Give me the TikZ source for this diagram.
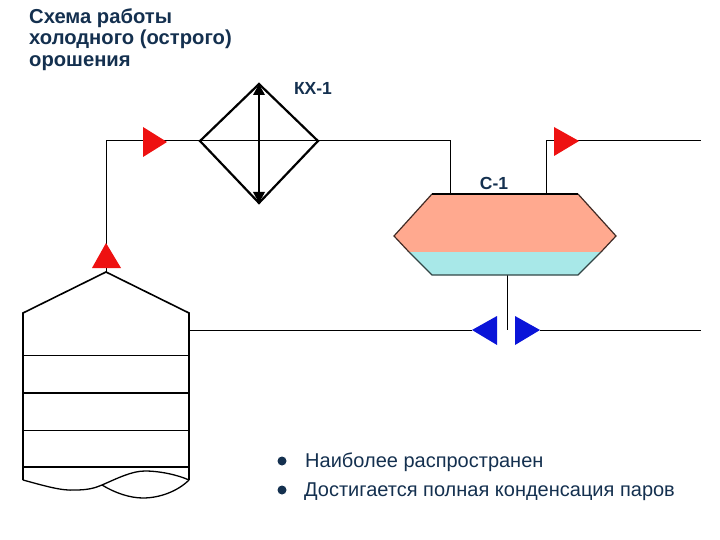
\documentclass[tikz,border=0pt]{standalone}
\usepackage{fontspec}
\setmainfont{Liberation Sans}
\definecolor{ink}{HTML}{14304F}
\definecolor{hotred}{HTML}{EE1111}
\definecolor{coldblue}{HTML}{0A14D8}
\definecolor{salmon}{HTML}{FFA98F}
\definecolor{aqua}{HTML}{A8E8E8}
\tikzset{
  pipe/.style={draw=black,line width=1pt},
  shell/.style={draw=black,line width=1.6pt,line join=miter},
  tray/.style={draw=black,line width=1pt},
  traybold/.style={draw=black,line width=2.2pt},
  hot/.style={fill=hotred,draw=none},
  cold/.style={fill=coldblue,draw=none},
  tag/.style={text=ink,font=\fontsize{17.5}{18}\selectfont\bfseries,inner sep=0pt},
  bodytext/.style={text=ink,font=\fontsize{20}{24}\selectfont,inner sep=0pt,anchor=west},
  dotmark/.style={circle,fill=ink,draw=none,minimum size=9pt,inner sep=0pt}
}
\begin{document}
\begin{tikzpicture}[x=1pt,y=-1pt]
\useasboundingbox (0,0) rectangle (720,540);
% anchors
\coordinate (ctop) at (106,272);
\coordinate (cl) at (23,313);
\coordinate (cr) at (189,313);
\coordinate (cbl) at (23,480);
\coordinate (cbr) at (189,480);
\coordinate (cmid) at (102,485);
\coordinate (corner1) at (106,141);
\coordinate (exL) at (200,141);
\coordinate (exR) at (318,141);
\coordinate (exT) at (259,84);
\coordinate (exB) at (259,203);
\coordinate (corner2) at (450,141);
\coordinate (inlet) at (450,194);
\coordinate (outlet) at (546,194);
\coordinate (corner3) at (546,141);
\coordinate (endtop) at (701,141);
\coordinate (stub) at (189,330);
\coordinate (endlow) at (701,330);
\coordinate (drainT) at (507,275);
\coordinate (drainB) at (507,330);
\coordinate (bluel) at (472,330);
\coordinate (bluer) at (540,330);
% pipes
\draw[pipe] (ctop) -- (corner1) -- (corner2) -- (inlet);
\draw[pipe] (outlet) -- (corner3) -- (endtop);
\draw[pipe] (stub) -- (bluel);
\draw[pipe] (bluer) -- (endlow);
\draw[pipe] (drainT) -- (drainB);
% separator
\fill[salmon] (432,194) -- (578,194) -- (616,236) -- (601,252) -- (409,252) -- (394,236) -- cycle;
\fill[aqua] (409,252) -- (601,252) -- (578,275) -- (432,275) -- cycle;
\draw[draw=black!75!salmon,line width=1.2pt] (409,252) -- (394,236) -- (432,194);
\draw[draw=black!75!salmon,line width=1.2pt] (578,194) -- (616,236) -- (601,252);
\draw[draw=black,line width=1.6pt] (432,194) -- (578,194);
\draw[draw=black!70!aqua,line width=1.1pt] (409,252) -- (432,275) -- (578,275) -- (601,252);
% exchanger
\draw[shell,line width=2.2pt] (exT) -- (exR) -- (exB) -- (exL) -- cycle;
\draw[draw=black,line width=1.2pt] (259,130) -- (exB);
\draw[draw=black,line width=1.8pt] (exT) -- (259,130);
\fill[black] (exT) -- (265,95) -- (253,95) -- cycle;
\fill[black] (exB) -- (265,192) -- (253,192) -- cycle;
% column
\draw[shell] (cbl) -- (cl) -- (ctop) -- (cr) -- (cbr);
\draw[tray] (23,355) -- (189,355);
\draw[traybold] (23,393) -- (189,393);
\draw[tray] (23,430) -- (189,430);
\draw[traybold] (23,467) -- (189,467);
\draw[draw=black,line width=1.3pt] (cbl) .. controls (45,486) and (62,491) .. (75,490) .. controls (88,490) and (95,488) .. (cmid) .. controls (118,478) and (132,471) .. (145,471) .. controls (160,471) and (178,475) .. (cbr);
\draw[draw=black,line width=1.3pt] (cmid) .. controls (115,493) and (130,498) .. (143,498) .. controls (160,498) and (178,491) .. (cbr);
% triangles
\fill[hot] (106,243) -- (121,268) -- (92,268) -- cycle;
\fill[hot] (143,127) -- (167,142) -- (143,157) -- cycle;
\fill[hot] (554,127) -- (579,141) -- (554,156) -- cycle;
\fill[cold] (bluel) -- (497,316) -- (497,345) -- cycle;
\fill[cold] (bluer) -- (515,316) -- (515,345) -- cycle;
% text
\node[bodytext,align=left,anchor=north west,font=\fontsize{20.2}{21.7}\selectfont\bfseries] (title) at (29,8) {Схема работы\\холодного (острого)\\орошения};
\node[tag] (kx) at (313,88) {КХ-1};
\node[tag] (s1) at (494,183) {С-1};
\node[dotmark] (d1) at (282,461) {};
\node[dotmark] (d2) at (282,490) {};
\node[bodytext] (t1) at (305,462) {Наиболее распространен};
\node[bodytext] (t2) at (304,491.5) {Достигается полная конденсация паров};
\end{tikzpicture}
\end{document}
